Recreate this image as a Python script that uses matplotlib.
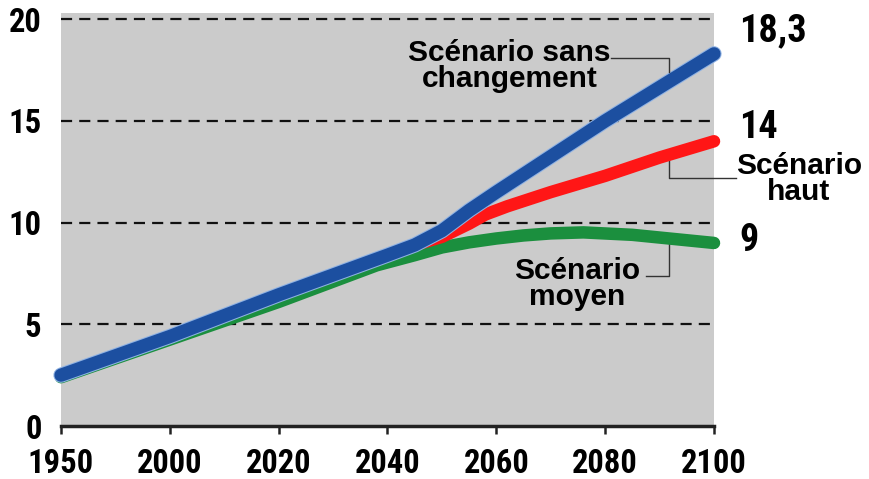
import numpy as np
import matplotlib
matplotlib.use("Agg")
from matplotlib import pyplot as plt
import matplotlib.patheffects as pe

# series (years, value)
blue_years = [1950, 2000, 2020, 2040, 2045, 2050, 2055, 2060, 2080, 2100]
blue_vals = [2.5, 4.4, 6.45, 8.4, 8.9, 9.6, 10.6, 11.5, 15.0, 18.3]

red_years = [2045, 2050, 2055, 2058, 2062, 2070, 2080, 2090, 2100]
red_vals = [8.9, 9.3, 9.95, 10.4, 10.8, 11.5, 12.3, 13.2, 14.0]

green_years = [1950, 2000, 2020, 2038, 2045, 2050, 2055, 2060, 2065, 2070, 2076, 2085, 2100]
green_vals = [2.4, 4.25, 6.1, 7.9, 8.4, 8.78, 9.03, 9.22, 9.37, 9.47, 9.52, 9.4, 9.0]

xticks = [1950, 2000, 2020, 2040, 2060, 2080, 2100]
yticks = [0, 5, 10, 15, 20]

# 1950-2000 squeezed into one tick step, then 20 years per step
def fwd(y):
    y = np.asarray(y, dtype=float)
    return np.where(y < 2000, (y - 1950) / 50.0, 1 + (y - 2000) / 20.0)

def inv(p):
    p = np.asarray(p, dtype=float)
    return np.where(p < 1, 1950 + 50.0 * p, 2000 + 20.0 * (p - 1))

digits = ['Roboto Condensed', 'Liberation Sans Narrow', 'Liberation Sans']
words = ['Liberation Sans', 'DejaVu Sans']
plt.rcParams['font.family'] = digits
plt.rcParams['font.weight'] = 'bold'

fig = plt.figure(figsize=(8.7, 4.79), dpi=100)
ax = fig.add_axes([0.0701, 0.1106, 0.7506, 0.862])
ax.set_facecolor('#cbcbcb')
ax.set_xscale('function', functions=(fwd, inv))
ax.set_xlim(1950, 2100)
ax.set_ylim(0, 20.3)

for v in yticks[1:]:
    ax.axhline(v, color='#111111', lw=1.6, dashes=(5, 3.2), zorder=1)

ax.plot(green_years, green_vals, color='#1b8f3e', lw=9, solid_capstyle='round',
        solid_joinstyle='round', zorder=3, clip_on=False)
ax.plot(red_years, red_vals, color='#ff1616', lw=9, solid_capstyle='round',
        solid_joinstyle='round', zorder=4, clip_on=False)
ax.plot(blue_years, blue_vals, color='#1c4fa0', lw=9.5, solid_capstyle='round',
        solid_joinstyle='round', zorder=5, clip_on=False,
        path_effects=[pe.Stroke(linewidth=11, foreground='#8fb2e3'), pe.Normal()])

# leader lines
ax.plot([2081.1, 2091.7, 2091.7], [18.1, 18.1, 17.4], color='#333333', lw=1, zorder=6, clip_on=False)
ax.plot([2091.7, 2091.7, 2104], [13.3, 12.2, 12.2], color='#333333', lw=1, zorder=2, clip_on=False)
ax.plot([2087.5, 2091.7, 2091.7], [7.4, 7.4, 9.3], color='#333333', lw=1, zorder=2, clip_on=False)

ax.text(2062.4, 17.7, 'Scénario sans\nchangement', ha='center', va='center',
        fontsize=21.5, linespacing=0.9, zorder=7, family=words)
ax.text(2115.6, 12.15, 'Scénario\nhaut', ha='center', va='center',
        fontsize=21.5, linespacing=0.9, clip_on=False, family=words)
ax.text(2074.9, 7.0, 'Scénario\nmoyen', ha='center', va='center',
        fontsize=21.5, linespacing=0.9, zorder=7, family=words)

ax.text(2104.6, 19.45, '18,3', ha='left', va='center', fontsize=27.5)
ax.text(2104.6, 14.7, '14', ha='left', va='center', fontsize=27.5)
ax.text(2104.6, 9.1, '9', ha='left', va='center', fontsize=27.5)

for s in ['top', 'right', 'left']:
    ax.spines[s].set_visible(False)
ax.spines['bottom'].set_linewidth(2.5)
ax.spines['bottom'].set_color('#222222')

ax.set_xticks(xticks)
ax.set_xticklabels([str(t) for t in xticks])
ax.set_yticks(yticks)
ax.tick_params(axis='x', length=6, width=1.8, color='#222222', labelsize=23.5, pad=10)
ax.tick_params(axis='y', length=0, labelsize=23.5, pad=14)
ax.xaxis.set_minor_locator(matplotlib.ticker.NullLocator())

fig.savefig('out.png', dpi=100)
